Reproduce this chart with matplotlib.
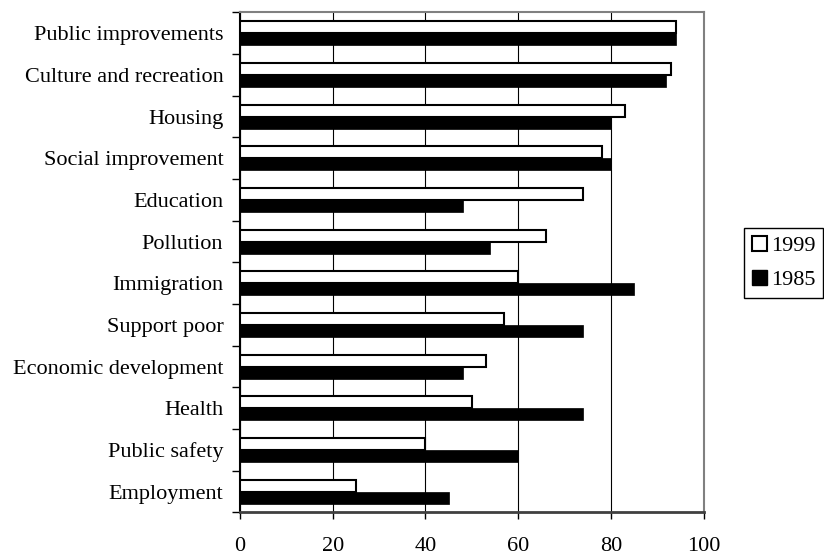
import matplotlib.pyplot as plt
import numpy as np
from matplotlib.patches import Patch

categories = ["Public improvements", "Culture and recreation", "Housing",
              "Social improvement", "Education", "Pollution", "Immigration",
              "Support poor", "Economic development", "Health",
              "Public safety", "Employment"]
vals_1999 = [94, 93, 83, 78, 74, 66, 60, 57, 53, 50, 40, 25]
vals_1985 = [94, 92, 80, 80, 48, 54, 85, 74, 48, 74, 60, 45]
xticks = [0, 20, 40, 60, 80, 100]

plt.rcParams['font.family'] = ['Liberation Serif', 'DejaVu Serif']
plt.rcParams['font.size'] = 16

fig = plt.figure(figsize=(8.24, 5.55), dpi=100)
ax = fig.add_axes([0.2913, 0.0766, 0.5625, 0.9009])

y = np.arange(len(categories))
h = 0.29
ax.barh(y - h / 2, vals_1999, height=h, color='white', edgecolor='black', linewidth=1.5, zorder=3)
ax.barh(y + h / 2, vals_1985, height=h, color='black', edgecolor='black', linewidth=0.5, zorder=3)

ax.set_xlim(0, 100)
ax.set_ylim(len(categories) - 0.5, -0.5)
ax.set_xticks(xticks)
ax.tick_params(axis='x', direction='out', length=5, width=1, pad=13, colors='black')

# category boundaries get the tick marks, names sit between them
ax.set_yticks(np.arange(len(categories) + 1) - 0.5)
ax.set_yticklabels([])
ax.set_yticks(y, minor=True)
ax.set_yticklabels(categories, minor=True)
ax.tick_params(axis='y', which='major', direction='out', length=6, width=1)
ax.tick_params(axis='y', which='minor', length=0, pad=12)

ax.grid(axis='x', color='black', linewidth=0.8, zorder=1)
ax.spines['left'].set_color('black')
ax.spines['left'].set_linewidth(1.5)
ax.spines['bottom'].set_color('#404040')
ax.spines['bottom'].set_linewidth(2)
for s in ['top', 'right']:
    ax.spines[s].set_color('#808080')
    ax.spines[s].set_linewidth(1.5)

handles = [Patch(facecolor='white', edgecolor='black', linewidth=1.5, label='1999'),
           Patch(facecolor='black', edgecolor='black', label='1985')]
leg = fig.legend(handles=handles, loc='upper left', bbox_to_anchor=(0.903, 0.589),
                 fancybox=False, edgecolor='black', framealpha=1,
                 handlelength=0.7, handleheight=0.7, handletextpad=0.15,
                 borderpad=0.35, borderaxespad=0, labelspacing=0.6, fontsize=16)
leg.get_frame().set_linewidth(1)

fig.savefig("out.png", dpi=100)
